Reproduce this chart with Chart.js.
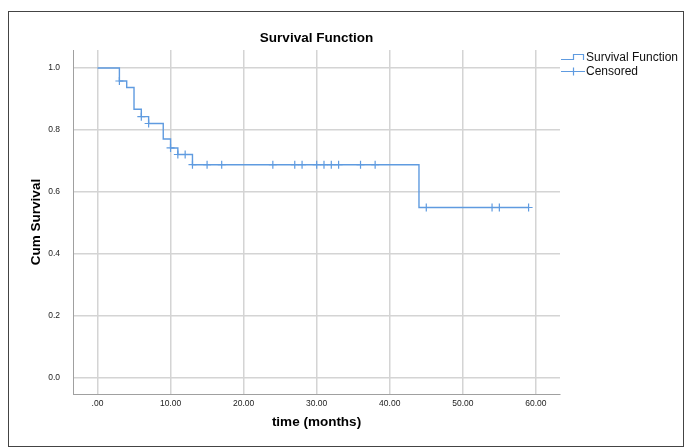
<!DOCTYPE html>
<html><head><meta charset="utf-8">
<script src="https://cdn.jsdelivr.net/npm/chart.js@4.4.1/dist/chart.umd.min.js"></script>
<style>html,body{margin:0;padding:0;background:#fff}#wrap{width:685px;height:448px;position:relative}</style>
</head><body><div id="wrap"><canvas id="c" width="685" height="448"></canvas></div>
<script>
// Kaplan-Meier steps (time, cumulative survival after the step)
const stepTimes    = [0, 3, 4, 5, 6, 7, 9, 10, 11, 13, 44, 59];
const stepSurvival = [1.0, 0.958, 0.937, 0.867, 0.843, 0.821, 0.771, 0.742, 0.721, 0.688, 0.550, 0.550];
// censored observations
const censorTimes    = [3, 6, 7, 10, 11, 12, 13, 15, 17, 24, 27, 28, 30, 31, 32, 33, 36, 38, 45, 54, 55, 59];
const censorSurvival = [0.958, 0.843, 0.821, 0.742, 0.721, 0.721, 0.688, 0.688, 0.688, 0.688, 0.688, 0.688, 0.688, 0.688, 0.688, 0.688, 0.688, 0.688, 0.550, 0.550, 0.550, 0.550];
// ticks
const xTickValues = [0, 10, 20, 30, 40, 50, 60];
const xTickLabels = ['.00', '10.00', '20.00', '30.00', '40.00', '50.00', '60.00'];
const yTickValues = [0, 0.2, 0.4, 0.6, 0.8, 1.0];
const yTickLabels = ['0.0', '0.2', '0.4', '0.6', '0.8', '1.0'];
const chartTitle = 'Survival Function';
const xTitle = 'time (months)';
const yTitle = 'Cum Survival';
const legendLabels = ['Survival Function', 'Censored'];

const LINE = '#5f9be0';
const GRID = '#d4d4d4';
const AXIS = '#a0a0a0';
const FONT = "'Liberation Sans', Arial, sans-serif";

const extras = {
  id: 'extras',
  afterDraw(chart) {
    const ctx = chart.ctx, a = chart.chartArea;
    ctx.save();
    // outer frame
    ctx.strokeStyle = '#444'; ctx.lineWidth = 1;
    ctx.strokeRect(8.5, 11.5, 675, 435);
    // title
    ctx.fillStyle = '#000';
    ctx.font = 'bold 13.5px ' + FONT;
    ctx.textAlign = 'center'; ctx.textBaseline = 'middle';
    ctx.fillText(chartTitle, (a.left + a.right) / 2, 38);
    // legend
    ctx.strokeStyle = LINE; ctx.lineWidth = 1.2;
    ctx.beginPath();
    ctx.moveTo(561, 59.5); ctx.lineTo(573.5, 59.5); ctx.lineTo(573.5, 54.5); ctx.lineTo(583.5, 54.5); ctx.lineTo(583.5, 60);
    ctx.stroke();
    ctx.beginPath();
    ctx.moveTo(561, 71.5); ctx.lineTo(585, 71.5);
    ctx.moveTo(573.5, 67.5); ctx.lineTo(573.5, 75.5);
    ctx.stroke();
    ctx.fillStyle = '#111';
    ctx.font = '12px ' + FONT;
    ctx.textAlign = 'left';
    ctx.fillText(legendLabels[0], 586, 58);
    ctx.fillText(legendLabels[1], 586, 72);
    ctx.restore();
  }
};

new Chart(document.getElementById('c'), {
  type: 'line',
  data: {
    datasets: [
      {
        label: legendLabels[0],
        data: stepTimes.map((t, i) => ({x: t, y: stepSurvival[i]})),
        stepped: 'before',
        borderColor: LINE,
        borderWidth: 1.4,
        pointRadius: 0,
        fill: false
      },
      {
        label: legendLabels[1],
        data: censorTimes.map((t, i) => ({x: t, y: censorSurvival[i]})),
        showLine: false,
        pointStyle: 'cross',
        pointRadius: 4,
        pointBorderWidth: 1.2,
        borderColor: LINE,
        backgroundColor: LINE
      }
    ]
  },
  options: {
    responsive: false,
    animation: false,
    devicePixelRatio: 1,
    layout: {padding: {left: 0, right: 125, top: 50, bottom: 0}},
    plugins: {legend: {display: false}, title: {display: false}, tooltip: {enabled: false}},
    scales: {
      x: {
        type: 'linear', min: -3.35, max: 63.3,
        afterBuildTicks: s => { s.ticks = xTickValues.map(v => ({value: v})); },
        afterFit: s => { s.height = 54; },
        ticks: {
          callback: v => xTickLabels[xTickValues.indexOf(v)],
          font: {family: FONT, size: 8.5}, color: '#222', padding: 5,
          maxRotation: 0, autoSkip: false
        },
        grid: {color: GRID, lineWidth: 1.5, drawTicks: false},
        border: {color: AXIS, width: 1},
        title: {display: true, text: xTitle, color: '#000',
          font: {family: FONT, size: 13.5, weight: 'bold'}, padding: {top: 0, bottom: 18}}
      },
      y: {
        type: 'linear', min: -0.0516, max: 1.058,
        afterBuildTicks: s => { s.ticks = yTickValues.map(v => ({value: v})); },
        afterFit: s => { s.width = 73; },
        ticks: {
          callback: v => yTickLabels[yTickValues.findIndex(t => Math.abs(t - v) < 1e-9)],
          font: {family: FONT, size: 8.5}, color: '#222', padding: 13
        },
        grid: {color: GRID, lineWidth: 1.5, drawTicks: false},
        border: {color: AXIS, width: 1},
        title: {display: true, text: yTitle, color: '#000',
          font: {family: FONT, size: 13.5, weight: 'bold'}, padding: {top: 28, bottom: 0}}
      }
    }
  },
  plugins: [extras]
});
</script></body></html>
